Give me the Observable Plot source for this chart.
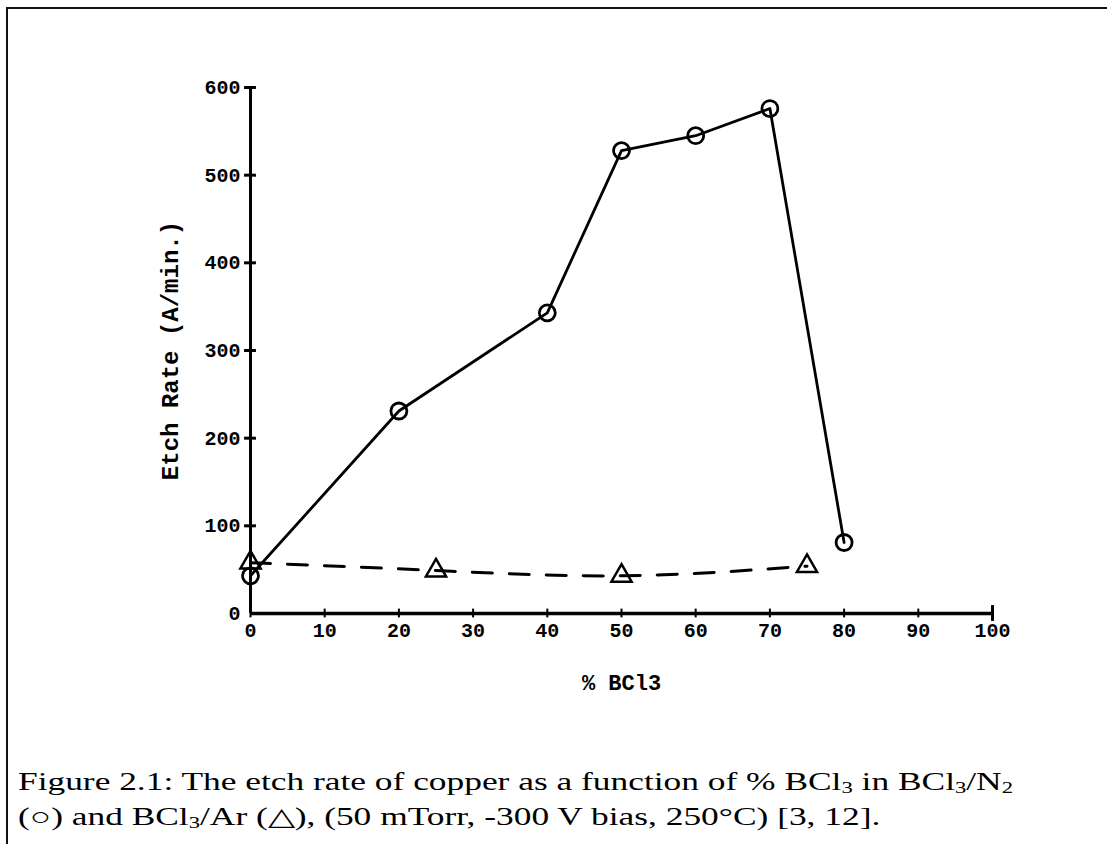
<!DOCTYPE html>
<html>
<head>
<meta charset="utf-8">
<script src="https://cdn.jsdelivr.net/npm/d3@7"></script>
<script src="https://cdn.jsdelivr.net/npm/@observablehq/plot@0.6"></script>
<style>
  html, body { margin: 0; padding: 0; background: #fff; }
  #page { position: relative; width: 1107px; height: 844px; overflow: hidden; background: #fff; }
  #frame { position: absolute; left: 6px; top: 7px; width: 1110px; height: 850px;
           border-top: 2px solid #111; border-left: 2px solid #111; }
  #chart { position: absolute; left: 0; top: 0; }
  #caption { position: absolute; left: 18px; top: 764px; font-family: "Liberation Serif", "Times New Roman", serif;
             font-size: 25px; line-height: 35px; color: #000; white-space: nowrap; transform-origin: 0 0; }
  #caption sub { font-size: 16px; vertical-align: -3px; line-height: 0; }
</style>
</head>
<body>
<div id="page">
  <div id="frame"></div>
  <div id="chart"></div>
  <div id="caption"><div><span id="ln1">Figure 2.1: The etch rate of copper as a function of % BCl<sub>3</sub> in BCl<sub>3</sub>/N<sub>2</sub></span></div><div><span id="ln2">(○) and BCl<sub>3</sub>/Ar (△), (50 mTorr, -300 V bias, 250°C) [3, 12].</span></div></div>
</div>
<script>
// BCl3/N2 series (circles)
const n2Pct = [0, 20, 40, 50, 60, 70, 80];
const n2Rate = [43, 231, 343, 528, 545, 576, 81];
// BCl3/Ar series (triangles)
const arPct = [0, 25, 50, 75];
const arRate = [58, 49, 43, 54];
// ticks
const xTicks = [0, 10, 20, 30, 40, 50, 60, 70, 80, 90, 100];
const yTicks = [0, 100, 200, 300, 400, 500, 600];

const n2 = n2Pct.map((x, i) => ({x, y: n2Rate[i]}));
const ar = arPct.map((x, i) => ({x, y: arRate[i]}));

const font = "'Liberation Mono', 'DejaVu Sans Mono', monospace";

const chart = Plot.plot({
  width: 1107,
  height: 720,
  marginLeft: 250,
  marginRight: 115,
  marginTop: 87,
  marginBottom: 107,
  x: {domain: [0, 100]},
  y: {domain: [0, 600]},
  style: {fontFamily: font, fontWeight: "bold", fontSize: "20px", background: "transparent", color: "#000"},
  marks: [
    Plot.axisY(yTicks, {tickSize: 0, tickPadding: 10, fontSize: 20, label: null}),
    Plot.axisY({ticks: [], tickSize: 0, fontSize: 24, label: "Etch Rate (A/min.)",
      labelAnchor: "center", labelArrow: "none", labelOffset: 90}),
    Plot.axisX(xTicks, {tickSize: 0, tickPadding: 9, fontSize: 20, label: null}),
    Plot.axisX({ticks: [], tickSize: 0, fontSize: 22, label: "% BCl3",
      labelAnchor: "center", labelArrow: "none", labelOffset: 76}),
    Plot.ruleX([0], {y1: 0, y2: 600, stroke: "#000", strokeWidth: 3}),
    Plot.ruleY([0], {x1: 0, x2: 100, stroke: "#000", strokeWidth: 3.5}),
    Plot.ruleY(yTicks.slice(1), {y: d => d, x1: -0.8, x2: 0.8, stroke: "#000", strokeWidth: 3}),
    Plot.ruleX(xTicks.slice(0, -1), {x: d => d, y1: -5, y2: 5, stroke: "#000", strokeWidth: 2}),
    Plot.ruleX(xTicks.slice(-1), {x: d => d, y1: -9, y2: 9, stroke: "#000", strokeWidth: 3}),
    Plot.line(ar, {x: "x", y: "y", curve: "natural", stroke: "#000", strokeWidth: 3, strokeDasharray: "20,17"}),
    Plot.dot(ar, {x: "x", y: "y", symbol: "triangle", r: 7.5, stroke: "#000", strokeWidth: 2.5, fill: "none"}),
    Plot.line(n2, {x: "x", y: "y", stroke: "#000", strokeWidth: 2.8}),
    Plot.dot(n2, {x: "x", y: "y", symbol: "circle", r: 8, stroke: "#000", strokeWidth: 2.8, fill: "none"})
  ]
});
document.getElementById("chart").appendChild(chart);

// stretch caption horizontally so line 1 spans the reference width
const w = document.getElementById("ln1").getBoundingClientRect().width;
const target = 995;
if (w > 0) document.getElementById("caption").style.transform = `scaleX(${(target / w).toFixed(4)})`;
</script>
</body>
</html>
